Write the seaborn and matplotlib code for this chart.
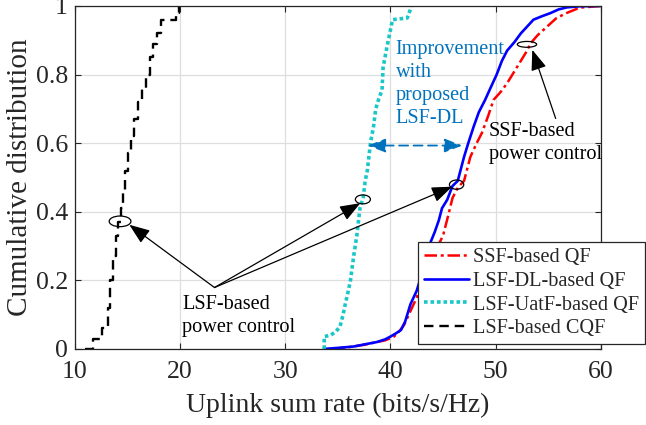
import matplotlib
matplotlib.use("Agg")
import matplotlib.pyplot as plt
from matplotlib.patches import Ellipse
import seaborn as sns
import pandas as pd

# Empirical CDF points (uplink sum rate in bits/s/Hz, cumulative probability)
ssf_rate = [34.5, 36.0, 37.5, 38.7, 39.5, 40.3, 40.8, 41.3, 41.9, 42.5, 43.0, 43.5,
            44.0, 44.5, 45.0, 45.5, 45.9, 46.4, 47.0, 47.6, 48.2, 48.7, 49.3, 49.8,
            50.5, 51.1, 52.1, 53.0, 53.3, 54.0, 54.9, 55.8, 56.8, 58.0, 60.0]
ssf_cdf = [0.0, 0.005, 0.012, 0.02, 0.025, 0.035, 0.05, 0.07, 0.11, 0.15, 0.2, 0.24,
           0.27, 0.3, 0.33, 0.39, 0.44, 0.47, 0.49, 0.56, 0.6, 0.63, 0.68, 0.726,
           0.75, 0.775, 0.825, 0.87, 0.89, 0.915, 0.94, 0.965, 0.98, 0.995, 1.0]

dl_rate = [33.7, 35.0, 36.5, 37.5, 38.7, 39.5, 40.0, 40.5, 41.0, 41.4, 41.9, 42.5,
           43.0, 43.4, 43.8, 44.2, 44.6, 44.9, 45.4, 45.9, 46.4, 47.0, 47.4, 47.9,
           48.4, 49.0, 49.5, 50.1, 50.6, 51.1, 51.8, 52.4, 53.0, 53.6, 54.4, 55.2,
           56.0, 56.8, 58.0, 60.0]
dl_cdf = [0.0, 0.003, 0.007, 0.013, 0.02, 0.028, 0.036, 0.045, 0.055, 0.08, 0.13, 0.17,
          0.22, 0.27, 0.31, 0.34, 0.375, 0.41, 0.435, 0.475, 0.49, 0.56, 0.60, 0.647,
          0.69, 0.726, 0.76, 0.80, 0.84, 0.87, 0.895, 0.92, 0.94, 0.96, 0.97, 0.979,
          0.99, 0.996, 0.999, 1.0]

uatf_rate = [33.7, 33.7, 34.3, 34.8, 35.2, 35.5, 35.7, 36.0, 36.2, 36.5, 36.8, 37.1,
             37.4, 37.6, 37.8, 38.1, 38.4, 38.6, 38.9, 39.2, 39.3, 39.6, 39.8, 40.2,
             41.6, 41.9, 42.0]
uatf_cdf = [0.0, 0.036, 0.04, 0.05, 0.065, 0.1, 0.13, 0.17, 0.2, 0.27, 0.33, 0.41,
            0.44, 0.49, 0.52, 0.6, 0.65, 0.70, 0.73, 0.755, 0.82, 0.87, 0.90, 0.96,
            0.965, 0.99, 1.0]

cqf_rate = [11.0, 11.7, 12.6, 13.1, 13.3, 13.6, 13.9, 14.1, 14.4, 14.6, 14.8, 15.0,
            15.3, 15.6, 16.0, 16.4, 16.8, 17.1, 17.4, 17.8, 18.2, 19.6, 19.9]
cqf_cdf = [0.0, 0.03, 0.06, 0.12, 0.2, 0.27, 0.33, 0.37, 0.41, 0.46, 0.52, 0.57,
           0.62, 0.67, 0.72, 0.76, 0.8, 0.85, 0.89, 0.92, 0.96, 0.98, 1.0]

series_labels = ["SSF-based QF", "LSF-DL-based QF", "LSF-UatF-based QF", "LSF-based CQF"]
x_ticks = [10, 20, 30, 40, 50, 60]
y_ticks = [0, 0.2, 0.4, 0.6, 0.8, 1]
y_tick_labels = ["0", "0.2", "0.4", "0.6", "0.8", "1"]

sns.set_theme(style="whitegrid")
plt.rcParams["font.family"] = ["Liberation Serif", "DejaVu Serif"]
plt.rcParams["mathtext.fontset"] = "stix"

fig = plt.figure(figsize=(6.46, 4.25), dpi=100)
ax = fig.add_axes([0.116, 0.179, 0.814, 0.807])

styles = [
    (ssf_rate, ssf_cdf, dict(color=(1, 0, 0), linestyle=(0, (5, 1.5, 1.2, 1.5)), linewidth=1.8)),
    (dl_rate, dl_cdf, dict(color=(0, 0, 1), linestyle="-", linewidth=1.9)),
    (uatf_rate, uatf_cdf, dict(color=(0.1, 0.78, 0.78), linestyle=(0, (1, 0.8)), linewidth=2.6)),
    (cqf_rate, cqf_cdf, dict(color="black", linestyle=(0, (4, 2.5)), linewidth=1.7,
                             drawstyle="steps-post")),
]
for (xs, ys, kw), lab in zip(styles, series_labels):
    df = pd.DataFrame({"rate": xs, "cdf": ys})
    sns.lineplot(data=df, x="rate", y="cdf", ax=ax, sort=False, estimator=None,
                 label=lab, **kw)

ax.set_xlim(10, 60)
ax.set_ylim(0, 1)
ax.set_xticks(x_ticks)
ax.set_yticks(y_ticks)
ax.set_yticklabels(y_tick_labels)
ax.tick_params(axis="both", labelsize=18.5, direction="in", length=4, width=0.8,
               color="#262626", top=True, right=True, bottom=True, left=True)
ax.tick_params(axis="x", pad=9)
ax.tick_params(axis="y", pad=5)
ax.set_xlabel("Uplink sum rate (bits/s/Hz)", fontsize=20, labelpad=7)
ax.set_ylabel("Cumulative distribution", fontsize=21, labelpad=2)
ax.grid(True, color="#dedede", linewidth=0.9)
ax.set_axisbelow(True)
for sp in ax.spines.values():
    sp.set_color("#262626")
    sp.set_linewidth(0.9)

leg = ax.legend(loc="lower right", bbox_to_anchor=(0.999, 0.19),
                bbox_transform=fig.transFigure, borderaxespad=0, fontsize=14.6,
                frameon=True, fancybox=False, framealpha=1, edgecolor="#262626",
                handlelength=2.2, handletextpad=0.2, labelspacing=0.22,
                borderpad=0.3)
leg.get_frame().set_linewidth(0.9)

# Highlight ellipses on the curves
for cx, cy, w, h in [(14.29, 0.372, 2.07, 0.031), (37.38, 0.436, 1.43, 0.026),
                     (46.29, 0.479, 1.36, 0.027), (52.98, 0.888, 1.84, 0.017)]:
    ax.add_patch(Ellipse((cx, cy), w, h, fill=False, edgecolor="black", linewidth=0.9,
                         zorder=5))

arrow_kw = dict(arrowstyle="-|>,head_length=1.05,head_width=0.4", color="black",
                linewidth=0.9, shrinkA=0, shrinkB=0)
origin = (23.27, 0.179)
for tip in [(15.17, 0.362), (37.14, 0.425), (45.87, 0.473)]:
    ax.annotate("", xy=tip, xytext=origin, arrowprops=arrow_kw, zorder=6)
ax.annotate("", xy=(53.49, 0.872), xytext=(55.71, 0.672), arrowprops=arrow_kw, zorder=6)

ax.text(20.19, 0.158, "LSF-based\npower control", fontsize=14.6, ha="left", va="top",
        linespacing=1.3, color="black", zorder=6)
ax.text(49.36, 0.662, "SSF-based\npower control", fontsize=14.6, ha="left", va="top",
        linespacing=1.28, color="black", zorder=6)

blue_txt = (0.0, 0.447, 0.741)
ax.text(40.48, 0.9, "Improvement\nwith\nproposed\nLSF-DL", fontsize=14.6, ha="left",
        va="top", linespacing=1.27, color=blue_txt, zorder=6)
ax.annotate("", xy=(46.83, 0.593), xytext=(37.84, 0.593),
            arrowprops=dict(arrowstyle="<|-|>,head_length=0.9,head_width=0.35",
                            color=blue_txt, linewidth=1.3, linestyle=(0, (5, 3)),
                            shrinkA=0, shrinkB=0), zorder=6)

fig.savefig("out.png", dpi=100)
